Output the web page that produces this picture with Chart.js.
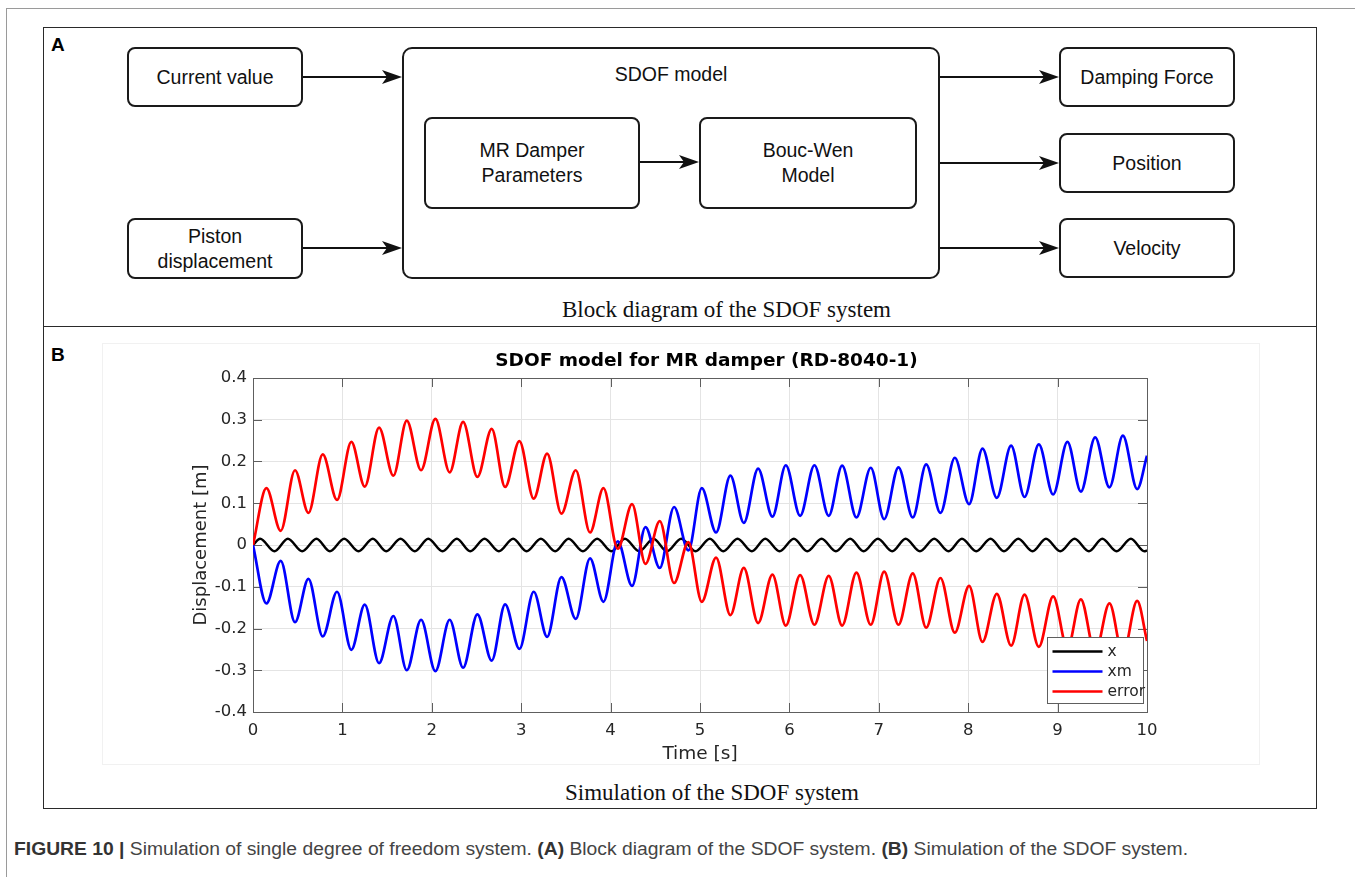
<!DOCTYPE html>
<html><head><meta charset="utf-8">
<script src="https://cdn.jsdelivr.net/npm/chart.js@4.4.1/dist/chart.umd.min.js"></script>
<style>
html,body{margin:0;padding:0;background:#fff;}
#page{position:relative;width:1355px;height:877px;overflow:hidden;font-family:"Liberation Sans",Arial,sans-serif;}
.abs{position:absolute;}
.box{position:absolute;box-sizing:border-box;border:2px solid #1a1a1a;border-radius:8px;display:flex;align-items:center;justify-content:center;text-align:center;font-size:19.5px;line-height:25px;color:#111;}
.serif{font-family:"Liberation Serif","Times New Roman",serif;font-size:23px;color:#111;white-space:nowrap;}
.panel{position:absolute;box-sizing:border-box;border:1.5px solid #2a2a2a;}
.plab{position:absolute;font-weight:bold;font-size:19px;color:#000;}
#caption{position:absolute;left:14px;top:839px;white-space:nowrap;font-family:"Liberation Sans Narrow","Arial Narrow","Liberation Sans",sans-serif;font-size:17.5px;color:#444;transform-origin:0 50%;}
#caption b{color:#333;}
</style>
</head><body>
<div id="page">
  <!-- outer journal frame lines -->
  <div class="abs" style="left:6px;top:8px;width:1349px;height:0;border-top:1.5px solid #9a9a9a;"></div>
  <div class="abs" style="left:6px;top:8px;width:0;height:869px;border-left:1.5px solid #9a9a9a;"></div>

  <!-- panels -->
  <div class="panel" style="left:43px;top:27px;width:1274px;height:782px;"></div>
  <div class="abs" style="left:43px;top:326px;width:1274px;height:0;border-top:1.5px solid #2a2a2a;"></div>
  <div class="plab" style="left:51px;top:34px;">A</div>
  <div class="plab" style="left:51px;top:344px;">B</div>

  <!-- block diagram -->
  <div class="box" style="left:127px;top:47px;width:176px;height:60px;">Current value</div>
  <div class="box" style="left:127px;top:218px;width:176px;height:61px;">Piston<br>displacement</div>
  <div class="box" style="left:402px;top:47px;width:538px;height:232px;border-radius:10px;align-items:flex-start;padding-top:13px;">SDOF model</div>
  <div class="box" style="left:424px;top:117px;width:216px;height:92px;">MR Damper<br>Parameters</div>
  <div class="box" style="left:699px;top:117px;width:218px;height:92px;">Bouc-Wen<br>Model</div>
  <div class="box" style="left:1059px;top:47px;width:176px;height:60px;">Damping Force</div>
  <div class="box" style="left:1059px;top:133px;width:176px;height:60px;">Position</div>
  <div class="box" style="left:1059px;top:218px;width:176px;height:60px;">Velocity</div>
  <svg class="abs" style="left:0;top:0;" width="1355" height="877">
    <g stroke="#111" stroke-width="2" fill="none">
      <line x1="303" y1="77" x2="390" y2="77"/>
      <line x1="303" y1="248" x2="390" y2="248"/>
      <line x1="640" y1="162" x2="687" y2="162"/>
      <line x1="940" y1="77" x2="1047" y2="77"/>
      <line x1="940" y1="163" x2="1047" y2="163"/>
      <line x1="940" y1="248" x2="1047" y2="248"/>
    </g>
    <g fill="#111">
      <path d="M402 77 L382 70 L387 77 L382 84 Z"/>
      <path d="M402 248 L382 241 L387 248 L382 255 Z"/>
      <path d="M699 162 L679 155 L684 162 L679 169 Z"/>
      <path d="M1059 77 L1039 70 L1044 77 L1039 84 Z"/>
      <path d="M1059 163 L1039 156 L1044 163 L1039 170 Z"/>
      <path d="M1059 248 L1039 241 L1044 248 L1039 255 Z"/>
    </g>
  </svg>
  <div class="abs serif" style="left:562px;top:297px;">Block diagram of the SDOF system</div>

  <!-- chart -->
  <div class="abs" style="left:102px;top:343px;width:1158px;height:422px;box-sizing:border-box;border:1px solid #f1f1f1;"></div>
  <canvas id="chart" class="abs" style="left:103px;top:343px;" width="1157" height="422"></canvas>
  <div class="abs serif" style="left:565px;top:780px;">Simulation of the SDOF system</div>

  <div id="caption"><b>FIGURE 10 |</b> Simulation of single degree of freedom system. <b>(A)</b> Block diagram of the SDOF system. <b>(B)</b> Simulation of the SDOF system.</div>
</div>
<script>
// ---- data ----
const xTickVals = [0,1,2,3,4,5,6,7,8,9,10];
const xTickLabels = ['0','1','2','3','4','5','6','7','8','9','10'];
const yTickVals = [-0.4,-0.3,-0.2,-0.1,0,0.1,0.2,0.3,0.4];
const yTickLabels = ['-0.4','-0.3','-0.2','-0.1','0','0.1','0.2','0.3','0.4'];

// x (excitation) : turning points
const tX = [0,0.08,0.24,0.39,0.55,0.71,0.86,1.02,1.18,1.34,1.49,1.65,1.81,1.96,2.12,2.28,2.43,2.59,2.75,2.91,3.06,3.22,3.38,3.53,3.69,3.85,4.01,4.16,4.32,4.48,4.63,4.79,4.95,5.11,5.26,5.42,5.58,5.73,5.89,6.05,6.20,6.36,6.52,6.68,6.83,6.99,7.15,7.30,7.46,7.62,7.78,7.93,8.09,8.25,8.40,8.56,8.72,8.87,9.03,9.19,9.35,9.50,9.66,9.82,9.97,10];
const xVals = [0,0.015,-0.015,0.015,-0.015,0.015,-0.015,0.015,-0.015,0.015,-0.015,0.015,-0.015,0.015,-0.015,0.015,-0.015,0.015,-0.015,0.015,-0.015,0.015,-0.015,0.015,-0.015,0.015,-0.015,0.015,-0.015,0.015,-0.015,0.015,-0.015,0.015,-0.015,0.015,-0.015,0.015,-0.015,0.015,-0.015,0.015,-0.015,0.015,-0.015,0.015,-0.015,0.015,-0.015,0.015,-0.015,0.015,-0.015,0.015,-0.015,0.015,-0.015,0.015,-0.015,0.015,-0.015,0.015,-0.015,0.015,-0.015,-0.013];

// xm and error : turning points (shared times)
const tE = [0,0.15,0.31,0.47,0.62,0.78,0.94,1.10,1.25,1.41,1.57,1.72,1.88,2.04,2.20,2.35,2.51,2.67,2.82,2.98,3.14,3.29,3.45,3.61,3.77,3.92,4.08,4.24,4.39,4.55,4.71,4.87,5.02,5.18,5.34,5.49,5.65,5.81,5.96,6.12,6.28,6.44,6.59,6.75,6.91,7.06,7.22,7.38,7.53,7.69,7.85,8.01,8.16,8.32,8.48,8.63,8.79,8.95,9.11,9.26,9.42,9.58,9.73,9.89,10];
const xmVals = [0,-0.140,-0.038,-0.185,-0.081,-0.219,-0.112,-0.251,-0.143,-0.283,-0.170,-0.300,-0.179,-0.302,-0.179,-0.294,-0.166,-0.277,-0.142,-0.249,-0.112,-0.220,-0.077,-0.177,-0.032,-0.136,0.009,-0.098,0.043,-0.055,0.091,-0.013,0.136,0.030,0.166,0.053,0.183,0.068,0.191,0.070,0.191,0.070,0.190,0.066,0.185,0.062,0.186,0.066,0.193,0.077,0.209,0.098,0.231,0.113,0.238,0.115,0.241,0.121,0.247,0.128,0.258,0.138,0.262,0.134,0.214];
const errVals = [0,0.136,0.034,0.179,0.077,0.217,0.108,0.247,0.140,0.281,0.166,0.298,0.179,0.302,0.174,0.295,0.163,0.278,0.139,0.249,0.111,0.219,0.075,0.179,0.030,0.136,-0.009,0.098,-0.045,0.057,-0.091,0.007,-0.136,-0.030,-0.168,-0.055,-0.187,-0.071,-0.193,-0.072,-0.191,-0.074,-0.193,-0.066,-0.191,-0.064,-0.191,-0.068,-0.198,-0.079,-0.210,-0.098,-0.232,-0.117,-0.241,-0.119,-0.244,-0.123,-0.248,-0.130,-0.258,-0.140,-0.262,-0.134,-0.230];

const seriesLabels = ['x','xm','error'];
const seriesColors = ['#000000','#0000ff','#ff0000'];

// ---- chart ----
const FONT = "'DejaVu Sans', Verdana, sans-serif";
const toPts = (ts, vs) => ts.map((t, i) => ({x: t, y: vs[i]}));

const frameTicks = {
  id: 'frameTicks',
  beforeDatasetsDraw(chart) {
    const {ctx, chartArea: ca, scales} = chart;
    ctx.save();
    ctx.strokeStyle = '#5e5e5e';
    ctx.lineWidth = 1;
    const L = 9;
    ctx.beginPath();
    scales.x.ticks.forEach(t => {
      const px = Math.round(scales.x.getPixelForValue(t.value)) + 0.5;
      ctx.moveTo(px, ca.bottom); ctx.lineTo(px, ca.bottom - L);
      ctx.moveTo(px, ca.top); ctx.lineTo(px, ca.top + L);
    });
    scales.y.ticks.forEach(t => {
      const py = Math.round(scales.y.getPixelForValue(t.value)) + 0.5;
      ctx.moveTo(ca.left, py); ctx.lineTo(ca.left + L, py);
      ctx.moveTo(ca.right, py); ctx.lineTo(ca.right - L, py);
    });
    ctx.stroke();
    ctx.strokeRect(Math.round(ca.left) + 0.5, Math.round(ca.top) + 0.5, Math.round(ca.right - ca.left), Math.round(ca.bottom - ca.top));
    ctx.restore();
  }
};

const boxLegend = {
  id: 'boxLegend',
  afterDatasetsDraw(chart) {
    const {ctx, chartArea: ca} = chart;
    const w = 96, h = 66;
    const x0 = Math.round(ca.right - 4 - w) + 0.5, y0 = Math.round(ca.bottom - 9 - h) + 0.5;
    ctx.save();
    ctx.fillStyle = '#ffffff';
    ctx.fillRect(x0, y0, w, h);
    ctx.strokeStyle = '#5e5e5e';
    ctx.lineWidth = 1;
    ctx.strokeRect(x0, y0, w, h);
    chart.data.datasets.forEach((ds, i) => {
      const yy = y0 + 14 + i * 20;
      ctx.strokeStyle = ds.borderColor;
      ctx.lineWidth = 2.6;
      ctx.beginPath(); ctx.moveTo(x0 + 5, yy); ctx.lineTo(x0 + 55, yy); ctx.stroke();
      ctx.fillStyle = '#262626';
      ctx.font = "15.5px " + FONT;
      ctx.textBaseline = 'middle';
      ctx.textAlign = 'left';
      ctx.fillText(ds.label, x0 + 60, yy);
    });
    ctx.restore();
  }
};

const valsList = [xVals, xmVals, errVals];
const timeList = [tX, tE, tE];

new Chart(document.getElementById('chart'), {
  type: 'line',
  data: {
    datasets: seriesLabels.map((lab, i) => ({
      label: lab,
      data: toPts(timeList[i], valsList[i]),
      borderColor: seriesColors[i],
      backgroundColor: seriesColors[i],
      borderWidth: i === 0 ? 2.4 : 2.7,
      pointRadius: 0,
      fill: false,
      cubicInterpolationMode: 'monotone',
      order: 3 - i
    }))
  },
  options: {
    responsive: false,
    animation: false,
    devicePixelRatio: 1,
    layout: {padding: {left: 0, right: 113, top: 0, bottom: 0}},
    plugins: {
      legend: {display: false},
      tooltip: {enabled: false},
      title: {
        display: true, fullSize: false,
        text: '  SDOF model for MR damper (RD-8040-1)',
        color: '#000',
        font: {family: FONT, size: 18.5, weight: 'bold', lineHeight: 1.2},
        padding: {top: 7.5, bottom: 5.3}
      }
    },
    scales: {
      x: {
        type: 'linear', min: 0, max: 10,
        afterBuildTicks: s => { s.ticks = xTickVals.map(v => ({value: v})); },
        afterFit: s => { s.height = 53; },
        ticks: {
          callback: (v, i) => xTickLabels[i],
          color: '#262626', font: {family: FONT, size: 16.5}, padding: 9, maxRotation: 0, autoSkip: false
        },
        grid: {color: '#e4e4e4', lineWidth: 1, drawTicks: false},
        border: {display: false},
        title: {display: true, text: 'Time [s]', color: '#262626', font: {family: FONT, size: 18.5}, padding: {top: 0, bottom: 0}}
      },
      y: {
        type: 'linear', min: -0.4, max: 0.4,
        afterBuildTicks: s => { s.ticks = yTickVals.map(v => ({value: v})); },
        afterFit: s => { s.width = 150; },
        ticks: {
          callback: (v, i) => yTickLabels[i],
          color: '#262626', font: {family: FONT, size: 16.5}, padding: 6, autoSkip: false
        },
        grid: {color: '#e4e4e4', lineWidth: 1, drawTicks: false},
        border: {display: false},
        title: {display: true, text: 'Displacement [m]', color: '#262626', font: {family: FONT, size: 18}, padding: {top: 88, bottom: 0}}
      }
    }
  },
  plugins: [frameTicks, boxLegend]
});

// fit the caption to its width in the reference
const cap = document.getElementById('caption');
const w = cap.getBoundingClientRect().width;
cap.style.transform = 'scaleX(' + (1174 / w) + ')';
</script>
</body></html>
